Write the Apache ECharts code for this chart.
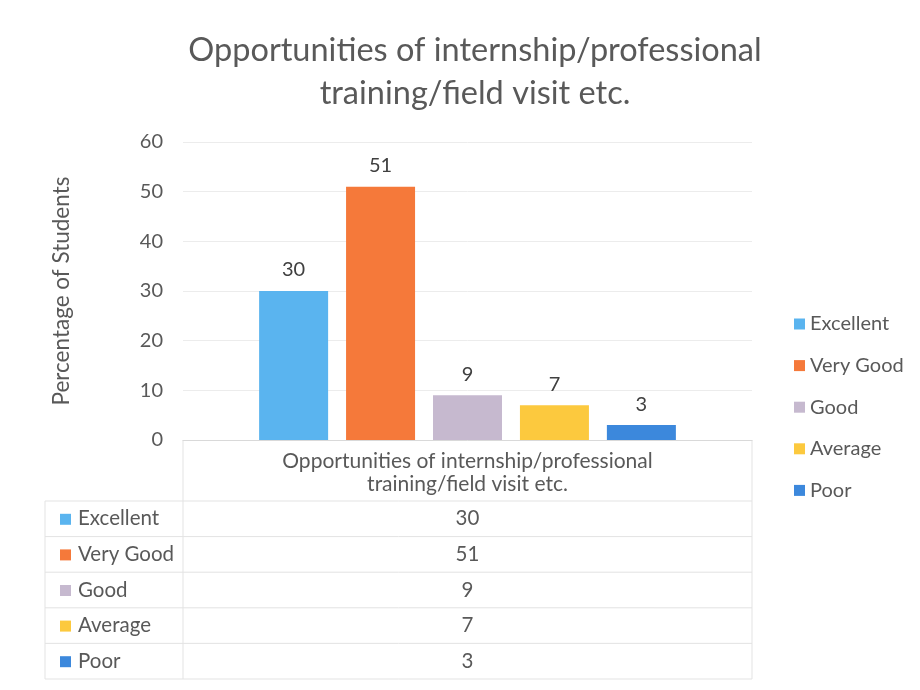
<!DOCTYPE html>
<html>
<head>
<meta charset="utf-8">
<script src="https://cdn.jsdelivr.net/npm/echarts@6/dist/echarts.min.js"></script>
<style>
  html, body { margin: 0; padding: 0; background: #fff; }
  #chart { width: 920px; height: 690px; }
</style>
</head>
<body>
<div id="chart"></div>
<script>
var categories = ["Opportunities of internship/professional training/field visit etc."];
var seriesNames = ["Excellent", "Very Good", "Good", "Average", "Poor"];
var seriesValues = [30, 51, 9, 7, 3];
var seriesColors = ["#5ab4ef", "#f5793a", "#c6b9cf", "#fcc93e", "#3c88dc"];
var yTicks = [0, 10, 20, 30, 40, 50, 60];

var font = "Lato";
var textColor = "#595959";
var lineColor = "#e3e3e3";

var chart = echarts.init(document.getElementById("chart"));

// plot area edges (pixels)
var plotLeft = 183, plotRight = 752, plotTop = 142, plotBottom = 440;
var tableLeft = 45, tableTop = 501, rowH = 35.6;

var series = seriesNames.map(function (name, i) {
  return {
    name: name,
    type: "bar",
    data: [seriesValues[i]],
    barWidth: 69,
    barGap: "26%",
    itemStyle: { color: seriesColors[i] },
    label: {
      show: true,
      position: "top",
      distance: 11,
      fontFamily: font,
      fontSize: 20,
      color: "#404040"
    }
  };
});

// data table drawn below the plot
var graphics = [];
function hline(y, x1, x2) {
  graphics.push({
    type: "line",
    shape: { x1: x1, y1: y, x2: x2, y2: y },
    style: { stroke: lineColor, lineWidth: 1 }
  });
}
function vline(x, y1, y2) {
  graphics.push({
    type: "line",
    shape: { x1: x, y1: y1, x2: x, y2: y2 },
    style: { stroke: lineColor, lineWidth: 1 }
  });
}
for (var r = 0; r <= seriesNames.length; r++) {
  hline(tableTop + r * rowH, tableLeft, plotRight);
}
vline(tableLeft, tableTop, tableTop + seriesNames.length * rowH);
vline(plotLeft, plotBottom, tableTop + seriesNames.length * rowH);
vline(plotRight, plotBottom, tableTop + seriesNames.length * rowH);

seriesNames.forEach(function (name, i) {
  var cy = tableTop + rowH * (i + 0.5);
  graphics.push({
    type: "rect",
    shape: { x: 60, y: cy - 5, width: 11, height: 11 },
    style: { fill: seriesColors[i] }
  });
  graphics.push({
    type: "text",
    x: 78, y: cy,
    style: {
      text: name, fontFamily: font, fontSize: 20.5, fill: textColor,
      verticalAlign: "middle", align: "left"
    }
  });
  graphics.push({
    type: "text",
    x: (plotLeft + plotRight) / 2, y: cy,
    style: {
      text: String(seriesValues[i]), fontFamily: font, fontSize: 20.5, fill: textColor,
      verticalAlign: "middle", align: "center"
    }
  });
});

var option = {
  backgroundColor: "#fff",
  animation: false,
  title: {
    text: "Opportunities of internship/professional\ntraining/field visit etc.",
    left: 470,
    top: 24,
    textAlign: "center",
    textStyle: {
      fontFamily: font,
      fontSize: 32.5,
      fontWeight: "normal",
      color: textColor,
      lineHeight: 43
    }
  },
  legend: {
    orient: "vertical",
    left: 789,
    top: 309,
    itemWidth: 11,
    itemHeight: 11,
    itemGap: 21.6,
    icon: "rect",
    textStyle: { fontFamily: font, fontSize: 20, color: textColor },
    data: seriesNames
  },
  grid: {
    left: plotLeft,
    right: 920 - plotRight,
    top: plotTop,
    bottom: 690 - plotBottom
  },
  xAxis: {
    type: "category",
    data: categories,
    axisLine: { show: true, lineStyle: { color: "#d9d9d9" } },
    axisTick: { show: false },
    axisLabel: {
      margin: 10,
      fontFamily: font,
      fontSize: 21,
      color: textColor,
      lineHeight: 23,
      formatter: function (v) { return v.replace("professional ", "professional\n"); }
    }
  },
  yAxis: {
    type: "value",
    name: "Percentage of Students",
    nameLocation: "middle",
    nameGap: 110,
    nameTextStyle: { fontFamily: font, fontSize: 22.5, color: textColor },
    min: yTicks[0],
    max: yTicks[yTicks.length - 1],
    interval: 10,
    axisLine: { show: false },
    axisTick: { show: false },
    axisLabel: { fontFamily: font, fontSize: 20, color: textColor, margin: 20 },
    splitLine: { lineStyle: { color: "#ececec" } }
  },
  series: series,
  graphic: graphics
};

chart.setOption(option);
</script>
</body>
</html>
